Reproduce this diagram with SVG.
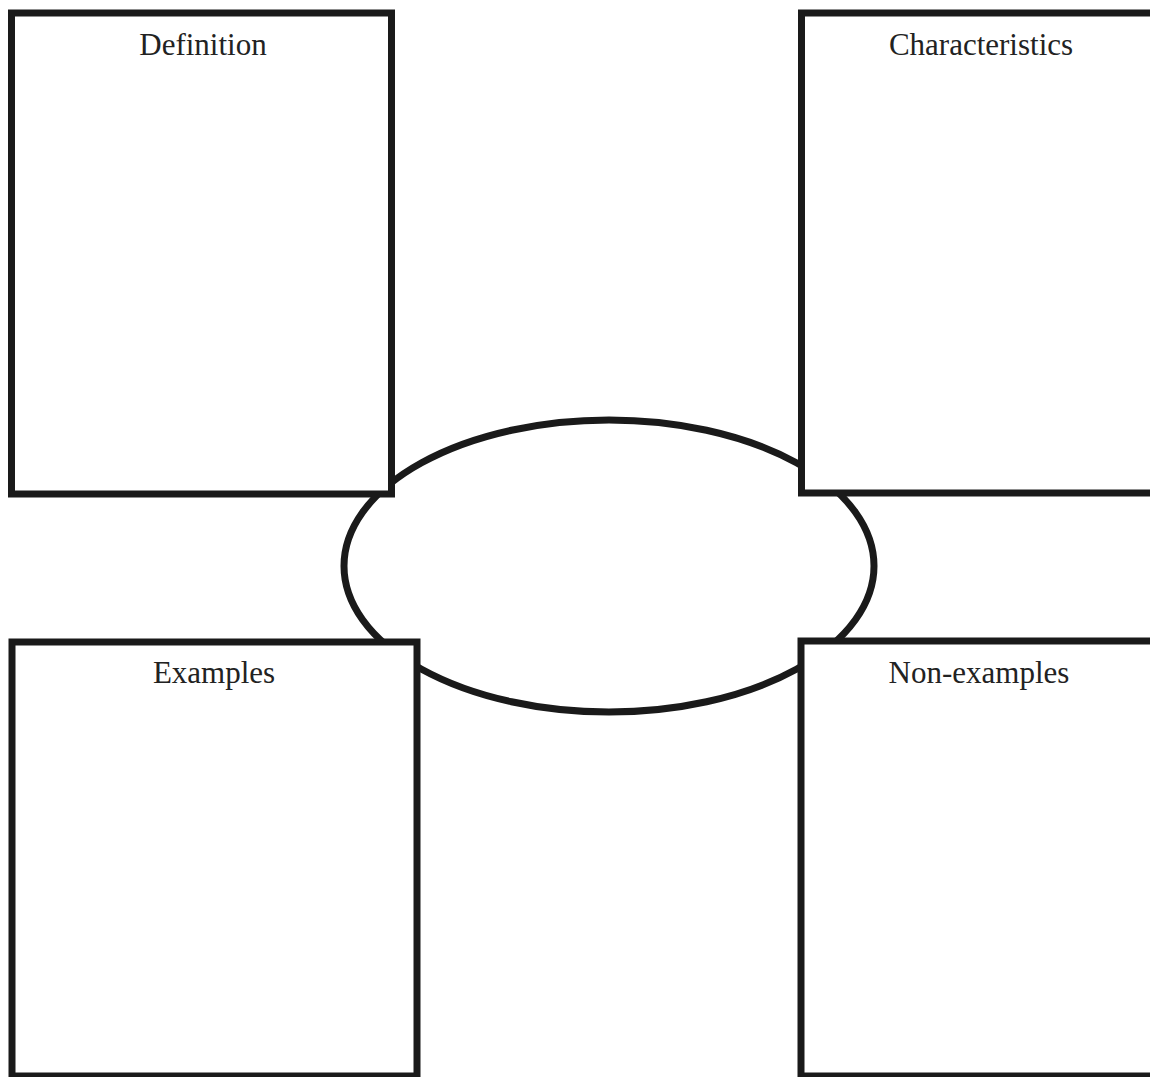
<svg xmlns="http://www.w3.org/2000/svg" width="1150" height="1077" viewBox="0 0 1150 1077">
<style>
.box{fill:#fff;stroke:#1a1a1a;stroke-width:7}
.lbl{font-family:"Liberation Serif","Times New Roman",serif;font-size:31px;fill:#222;text-anchor:middle}
</style>
<rect width="1150" height="1077" fill="#fff"/>
<g id="center">
<ellipse cx="609" cy="566" rx="265" ry="146" fill="#fff" stroke="#1a1a1a" stroke-width="7"/>
</g>
<g id="connectors"></g>
<g id="definition">
<rect class="box" x="11.5" y="13" width="380" height="481"/>
<text class="lbl" x="203" y="55">Definition</text>
</g>
<g id="characteristics">
<rect class="box" x="801.5" y="13" width="360" height="480"/>
<text class="lbl" x="981" y="55">Characteristics</text>
</g>
<g id="examples">
<rect class="box" x="12" y="642" width="405" height="434"/>
<text class="lbl" x="214" y="683">Examples</text>
</g>
<g id="non-examples">
<rect class="box" x="801" y="641" width="360" height="435"/>
<text class="lbl" x="979" y="683">Non-examples</text>
</g>
</svg>
